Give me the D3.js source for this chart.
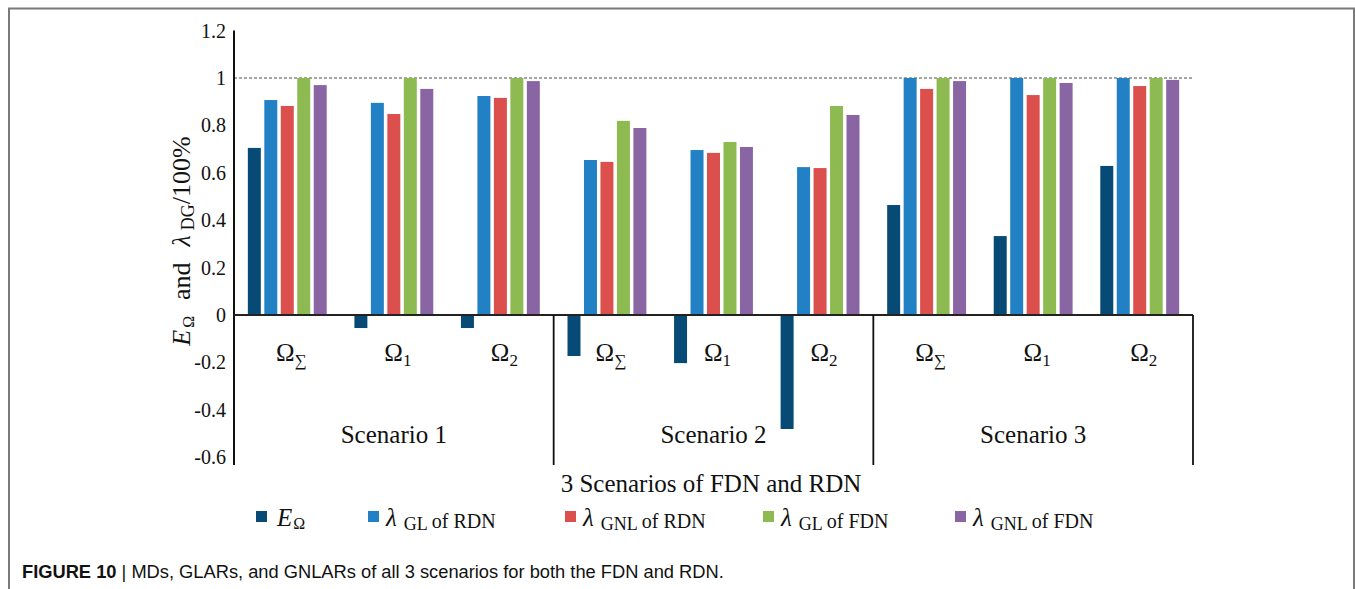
<!DOCTYPE html>
<html>
<head>
<meta charset="utf-8">
<script src="https://cdn.jsdelivr.net/npm/d3@7"></script>
<style>
  html, body { margin: 0; padding: 0; background: #fff; }
  svg { display: block; }
</style>
</head>
<body>
<svg id="chart" width="1355" height="589"></svg>
<script>
// ---------------- DATA ----------------
const scenarios = ["Scenario 1", "Scenario 2", "Scenario 3"];
const regionSubs = ["\u2211", "1", "2"];            // Ω subscripts
const seriesKeys = ["E", "GL_RDN", "GNL_RDN", "GL_FDN", "GNL_FDN"];
const E_Omega       = [0.705, -0.055, -0.055, -0.173, -0.203, -0.481, 0.464, 0.333, 0.629];
const lambdaGL_RDN  = [0.907,  0.895,  0.924,  0.654,  0.696,  0.624, 1.000, 1.000, 1.000];
const lambdaGNL_RDN = [0.882,  0.848,  0.916,  0.646,  0.684,  0.620, 0.954, 0.928, 0.966];
const lambdaGL_FDN  = [1.000,  1.000,  1.000,  0.819,  0.730,  0.882, 1.000, 1.000, 1.000];
const lambdaGNL_FDN = [0.970,  0.954,  0.987,  0.789,  0.709,  0.844, 0.987, 0.979, 0.992];
const yTicks = [-0.6, -0.4, -0.2, 0, 0.2, 0.4, 0.6, 0.8, 1, 1.2];
const yTickLabels = ["-0.6", "-0.4", "-0.2", "0", "0.2", "0.4", "0.6", "0.8", "1", "1.2"];
const legendSubs = [null, "GL", "GNL", "GL", "GNL"];
const legendTails = [null, "of RDN", "of RDN", "of FDN", "of FDN"];

// ---------------- STYLE / LAYOUT ----------------
const colors = ["#074a76", "#2181c4", "#db504d", "#8dba51", "#8a65a4"];
const serif = "Liberation Serif";
const sans = "Liberation Sans";
const plot = { left: 234, right: 1193, top: 30.6, bottom: 457.2, axisEnd: 465 };
const legendX = [256, 368, 565, 763, 955];
const legendY = 511;

const seriesValues = [E_Omega, lambdaGL_RDN, lambdaGNL_RDN, lambdaGL_FDN, lambdaGNL_FDN];
const cats = [];
scenarios.forEach((s, i) => regionSubs.forEach((r, j) => cats.push({ s, r, i, j, idx: i * 3 + j })));

const svg = d3.select("#chart");

// frame
svg.append("path")
  .attr("d", "M9,589 V8.5 H1354 V589")
  .attr("fill", "none").attr("stroke", "#7a7a7a").attr("stroke-width", 2);

// scales
const y = d3.scaleLinear().domain([-0.6, 1.2]).range([plot.bottom, plot.top]);
const xOuter = d3.scaleBand().domain(scenarios).range([plot.left, plot.right]).padding(0);
const xInner = d3.scaleBand().domain(regionSubs).range([0, xOuter.bandwidth()]).padding(0);
const xSeries = d3.scaleBand().domain(seriesKeys).range([0, xInner.bandwidth()])
  .paddingInner(0.212).paddingOuter(0.84);

// dashed reference line at 1
svg.append("line")
  .attr("x1", plot.left).attr("x2", plot.right)
  .attr("y1", y(1)).attr("y2", y(1))
  .attr("stroke", "#888").attr("stroke-width", 1.5).attr("stroke-dasharray", "3,2");

// bars
const barG = svg.append("g");
seriesKeys.forEach((k, si) => {
  barG.selectAll(null).data(cats).enter().append("rect")
    .attr("x", d => xOuter(d.s) + xInner(d.r) + xSeries(k))
    .attr("width", xSeries.bandwidth())
    .attr("y", d => y(Math.max(0, seriesValues[si][d.idx])))
    .attr("height", d => Math.abs(y(seriesValues[si][d.idx]) - y(0)))
    .attr("fill", colors[si]);
});

// y axis tick labels
svg.append("g").selectAll("text").data(yTicks).enter().append("text")
  .attr("x", plot.left - 8).attr("y", d => y(d)).attr("dy", "0.35em")
  .attr("text-anchor", "end")
  .style("font-family", serif).style("font-size", "20px").style("fill", "#111")
  .text((d, i) => yTickLabels[i]);
svg.append("line").attr("x1", plot.left).attr("x2", plot.left)
  .attr("y1", plot.top).attr("y2", plot.axisEnd)
  .attr("stroke", "#111").attr("stroke-width", 2);

// zero axis line
svg.append("line").attr("x1", plot.left).attr("x2", plot.right)
  .attr("y1", y(0)).attr("y2", y(0))
  .attr("stroke", "#222").attr("stroke-width", 2);

// group dividers
scenarios.slice(1).concat(["__end"]).forEach(s => {
  const xx = s === "__end" ? plot.right : xOuter(s);
  svg.append("line").attr("x1", xx).attr("x2", xx)
    .attr("y1", y(0)).attr("y2", plot.axisEnd)
    .attr("stroke", "#111").attr("stroke-width", 1.8);
});

// inner category labels
cats.forEach(d => {
  const cx = xOuter(d.s) + xInner(d.r) + xInner.bandwidth() / 2 + 4;
  const t = svg.append("text").attr("x", cx).attr("y", 361)
    .attr("text-anchor", "middle").attr("font-family", serif).attr("font-size", 25).attr("fill", "#111");
  t.append("tspan").text("\u03A9");
  t.append("tspan").attr("font-size", 17).attr("dy", 5).text(d.r);
});

// scenario labels
scenarios.forEach(s => {
  svg.append("text").attr("x", xOuter(s) + xOuter.bandwidth() / 2).attr("y", 443)
    .attr("text-anchor", "middle").attr("font-family", serif).attr("font-size", 25)
    .attr("fill", "#111").text(s);
});

// x axis title
svg.append("text").attr("x", 711).attr("y", 492).attr("text-anchor", "middle")
  .attr("font-family", serif).attr("font-size", 25).attr("fill", "#111")
  .text("3 Scenarios of FDN and RDN");

// y axis title
const yt = svg.append("text")
  .attr("transform", "translate(190,241) rotate(-90)")
  .attr("text-anchor", "middle").attr("font-family", serif).attr("font-size", 26).attr("fill", "#111");
yt.append("tspan").attr("font-style", "italic").text("E");
yt.append("tspan").attr("font-size", 16).attr("dy", 4).attr("dx", 2).text("\u03A9");
yt.append("tspan").attr("dy", -4).attr("dx", 16).text("and");
yt.append("tspan").attr("font-style", "italic").attr("dx", 16).text("\u03BB");
yt.append("tspan").attr("font-size", 18).attr("dy", 4).attr("dx", 5).text("DG");
yt.append("tspan").attr("dy", -4).text("/100%");

// legend
seriesKeys.forEach((k, i) => {
  const g = svg.append("g").attr("transform", `translate(${legendX[i]},${legendY})`);
  g.append("rect").attr("width", 11).attr("height", 11).attr("fill", colors[i]);
  const t = g.append("text").attr("x", i === 0 ? 21 : 18).attr("y", 15)
    .attr("font-family", serif).attr("font-size", 25).attr("fill", "#111");
  if (i === 0) {
    t.append("tspan").attr("font-style", "italic").text("E");
    t.append("tspan").attr("font-size", 16).attr("dy", 3).attr("dx", 1).text("\u03A9");
  } else {
    t.append("tspan").attr("font-style", "italic").text("\u03BB");
    t.append("tspan").attr("font-size", 18).attr("dy", 4).attr("dx", 7).text(legendSubs[i]);
    t.append("tspan").attr("font-size", 20).attr("dy", -2).attr("dx", 4).text(legendTails[i]);
  }
});

// caption
const cap = svg.append("text").attr("x", 22).attr("y", 578)
  .attr("font-family", sans).attr("font-size", 18.3).attr("fill", "#111");
cap.append("tspan").attr("font-weight", "bold").text("FIGURE 10");
cap.append("tspan").text(" | MDs, GLARs, and GNLARs of all 3 scenarios for both the FDN and RDN.");
</script>
</body>
</html>
